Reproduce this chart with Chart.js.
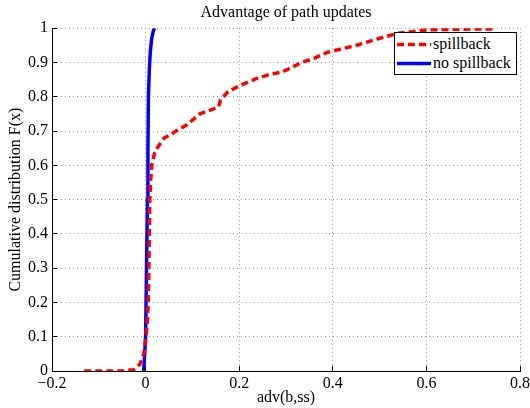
<!DOCTYPE html>
<html>
<head>
<meta charset="utf-8">
<script src="https://cdn.jsdelivr.net/npm/chart.js@4/dist/chart.umd.min.js"></script>
<style>
  body { margin: 0; background: #fff; }
  #wrap { position: relative; width: 530px; height: 408px; }
  #legend {
    position: absolute; left: 394px; top: 32px; width: 121px; height: 41px;
    border: 1px solid #000; background: #fff;
    font: 16px "Liberation Serif", "Times New Roman", serif; color: #000;
  }
  #legend .row { position: absolute; left: 0; height: 20px; line-height: 20px; white-space: nowrap; }
  #legend svg { position: absolute; left: 2px; top: 0; }
  #legend span { position: absolute; left: 38px; top: 0; }
</style>
</head>
<body>
<div id="wrap">
  <canvas id="chart" width="530" height="408"></canvas>
  <div id="legend"></div>
</div>
<script>
// CDF of adv(b,ss)
const spillX = [-0.131, -0.05, -0.025, -0.012, -0.004, 0.0, 0.004, 0.006, 0.007, 0.008, 0.009, 0.011, 0.013, 0.019, 0.027, 0.040, 0.054, 0.065, 0.088, 0.116, 0.140, 0.156, 0.160, 0.176, 0.205, 0.235, 0.262, 0.290, 0.304, 0.333, 0.360, 0.389, 0.420, 0.453, 0.496, 0.538, 0.570, 0.602, 0.660, 0.743, 0.748];
const spillY = [0, 0, 0.004, 0.02, 0.05, 0.09, 0.15, 0.22, 0.3, 0.4, 0.5, 0.56, 0.6, 0.635, 0.655, 0.68, 0.69, 0.70, 0.718, 0.75, 0.762, 0.77, 0.79, 0.815, 0.835, 0.852, 0.864, 0.872, 0.88, 0.9, 0.912, 0.93, 0.94, 0.951, 0.969, 0.985, 0.99, 0.995, 0.997, 0.998, 1];

const noSpillX = [-0.004, -0.002, 0.0, 0.002, 0.004, 0.005, 0.006, 0.008, 0.010, 0.013, 0.017, 0.020];
const noSpillY = [0, 0.05, 0.1, 0.3, 0.5, 0.65, 0.8, 0.88, 0.93, 0.97, 0.995, 1];

const seriesNames = ["spillback", "no spillback"];
const xTicks = [-0.2, 0, 0.2, 0.4, 0.6, 0.8];
const yTicks = [0, 0.1, 0.2, 0.3, 0.4, 0.5, 0.6, 0.7, 0.8, 0.9, 1];

const serif = "'Liberation Serif', 'Times New Roman', serif";
Chart.defaults.font.family = serif;
Chart.defaults.font.size = 16;
Chart.defaults.color = "#000";

const toPts = (xs, ys) => xs.map((x, i) => ({ x: x, y: ys[i] }));

const datasets = [
  {
    label: seriesNames[0],
    data: toPts(spillX, spillY),
    borderColor: "#ff0000",
    borderWidth: 3.5,
    borderDash: [7, 4],
    pointRadius: 0,
    showLine: true,
    tension: 0
  },
  {
    label: seriesNames[1],
    data: toPts(noSpillX, noSpillY),
    borderColor: "#0000ff",
    borderWidth: 3.5,
    pointRadius: 0,
    showLine: true,
    tension: 0
  }
];

const gridOpts = {
  color: "#999",
  tickColor: "#000",
  tickLength: -5,
  lineWidth: 1
};

const chart = new Chart(document.getElementById("chart"), {
  type: "scatter",
  data: { datasets: datasets },
  options: {
    responsive: false,
    animation: false,
    layout: { padding: { left: 0, right: 10, top: 0, bottom: 0 } },
    plugins: {
      legend: { display: false },
      tooltip: { enabled: false },
      title: {
        display: true,
        fullSize: false, // center over the plot area, not the canvas
        text: "Advantage of path updates",
        font: { size: 16, weight: "normal", family: serif },
        color: "#000",
        padding: { top: 3, bottom: 6 }
      }
    },
    scales: {
      x: {
        type: "linear",
        min: -0.2,
        max: 0.8,
        afterBuildTicks: s => { s.ticks = xTicks.map(v => ({ value: v })); },
        afterFit: s => {
          s.height = 37;
          // let the last label hang over the edge, plot runs to x=520
          s.paddingLeft = 0;
          s.paddingRight = 0;
        },
        ticks: {
          padding: 8,
          maxRotation: 0,
          callback: v => String(Math.round(v * 10) / 10).replace("-", "\u2212")
        },
        grid: gridOpts,
        border: { color: "#000", width: 1, dash: [1, 3] },
        title: {
          display: true,
          text: "adv(b,ss)",
          font: { size: 16 },
          padding: { top: 0, bottom: 1 }
        }
      },
      y: {
        min: 0,
        max: 1,
        afterBuildTicks: s => { s.ticks = yTicks.map(v => ({ value: v })); },
        afterFit: s => { s.width = 52; },
        ticks: {
          padding: 9,
          callback: v => String(Math.round(v * 10) / 10)
        },
        grid: gridOpts,
        border: { color: "#000", width: 1, dash: [1, 3] },
        title: {
          display: true,
          text: "Cumulative distribution F(x)",
          font: { size: 16 },
          padding: { top: 6, bottom: 0 }
        }
      }
    }
  }
});

// boxed legend in the top-right corner, like the original figure
const legend = document.getElementById("legend");
chart.data.datasets.forEach((ds, i) => {
  const row = document.createElement("div");
  row.className = "row";
  row.style.top = (i * 19 + 1) + "px";
  const dash = ds.borderDash ? ds.borderDash.join(",") : "none";
  row.innerHTML =
    `<svg width="34" height="20"><line x1="0" y1="10.5" x2="34" y2="10.5" stroke="${ds.borderColor}" stroke-width="3.5" stroke-dasharray="${dash}"/></svg>` +
    `<span>${ds.label}</span>`;
  legend.appendChild(row);
});
</script>
</body>
</html>
